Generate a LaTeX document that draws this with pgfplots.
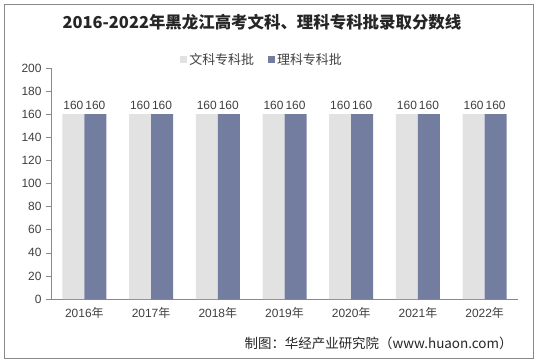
\documentclass[border=0pt]{standalone}
\usepackage{fontspec}
\setmainfont{Liberation Sans}
\newfontfamily\cjk{Noto Sans CJK SC}
\usepackage{pgfplots}
\pgfplotsset{compat=1.18}
\definecolor{lightbar}{HTML}{E1E2E1}
\definecolor{darkbar}{HTML}{737DA0}
\definecolor{axisgray}{HTML}{898989}
\definecolor{txt}{HTML}{404040}
\begin{document}
\begin{tikzpicture}[x=1bp,y=1bp]
\path[fill=white] (0,0) rectangle (538,-363);
\draw[color=axisgray, line width=0.8bp] (4,-4) rectangle (533,-358);
\node[font=\cjk\bfseries\fontsize{16.5}{18}\selectfont, color=black!85] at (262,-22) {2016-2022年黑龙江高考文科、理科专科批录取分数线};
\node[font=\cjk\fontsize{13.5}{15}\selectfont, color=black!85, anchor=east] at (516,-343) {制图：华经产业研究院（www.huaon.com）};
\begin{axis}[
  at={(51bp,-299bp)}, anchor=south west,
  scale only axis, width=467bp, height=231bp,
  xmin=-0.5, xmax=6.5, ymin=0, ymax=200,
  ybar=0pt, bar width=22bp,
  axis x line*=bottom, axis y line*=left,
  axis line style={color=axisgray, line width=0.6bp},
  ytick={0,20,...,200},
  xtick={0,...,6},
  xticklabels={2016{\cjk 年},2017{\cjk 年},2018{\cjk 年},2019{\cjk 年},2020{\cjk 年},2021{\cjk 年},2022{\cjk 年}},
  x tick style={draw=none},
  extra x ticks={-0.5,0.5,...,6.5},
  extra x tick labels={},
  extra x tick style={tick style={draw=axisgray, line width=0.6bp}},
  y tick style={draw=axisgray, line width=0.6bp},
  tick align=outside,
  major tick length=5bp,
  tick label style={font=\fontsize{12}{14}\selectfont, color=txt},
  yticklabel style={xshift=-1bp},
  /pgf/number format/assume math mode=true,
  nodes near coords,
  every node near coord/.append style={font=\fontsize{12}{14}\selectfont, color=txt, anchor=south, yshift=1bp},
  legend style={at={(0.452,1.0)}, anchor=south, yshift=-1bp, draw=none, fill=none,
     font=\cjk\fontsize{13}{15}\selectfont, text=txt, legend columns=2,
     inner sep=1bp,
     /tikz/every even column/.append style={column sep=12bp}},
  legend image code/.code={\fill[#1, draw=none] (2bp,-3.5bp) rectangle (9bp,3.5bp);},
  legend cell align=left,
]
\addplot[fill=lightbar, draw=none] coordinates {(0,160) (1,160) (2,160) (3,160) (4,160) (5,160) (6,160)};
\addplot[fill=darkbar, draw=none] coordinates {(0,160) (1,160) (2,160) (3,160) (4,160) (5,160) (6,160)};
\legend{文科专科批,理科专科批}
\end{axis}
\end{tikzpicture}
\end{document}
